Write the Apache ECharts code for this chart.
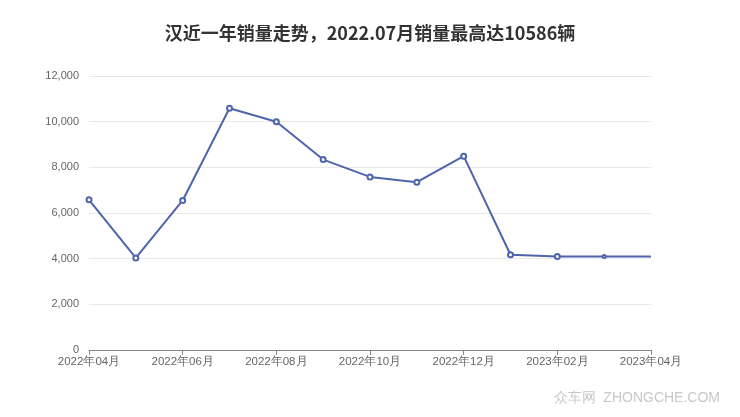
<!DOCTYPE html>
<html><head><meta charset="utf-8">
<script src="https://cdn.jsdelivr.net/npm/echarts@6/dist/echarts.min.js"></script>
<style>html,body{margin:0;padding:0;background:#fff}#c{width:740px;height:417px}</style>
</head><body><div id="c"></div>
<script>
var titleText = '汉近一年销量走势，2022.07月销量最高达10586辆';
var categories = ['2022年04月','2022年05月','2022年06月','2022年07月','2022年08月','2022年09月','2022年10月','2022年11月','2022年12月','2023年01月','2023年02月','2023年03月','2023年04月'];
var sales = [6580, 4030, 6550, 10586, 10000, 8340, 7580, 7350, 8490, 4170, 4090, 4090, 4090];
var yTicks = [0, 2000, 4000, 6000, 8000, 10000, 12000];

var seriesData = sales.map(function(v, i){
  var d = {value: v};
  if (i === sales.length - 2) { d.symbolSize = 3; }
  if (i === sales.length - 1) { d.symbol = 'none'; }
  return d;
});

var chart = echarts.init(document.getElementById('c'));
chart.setOption({
  animation: false,
  title: {text: titleText, left: 'center', top: 19, textStyle: {fontSize: 18, fontWeight: 'bold', color: '#333', fontFamily: 'Noto Sans CJK SC'}},
  graphic: [{type: 'text', right: 20, top: 391, style: {text: '众车网  ZHONGCHE.COM', fill: '#c8c8c8', fontSize: 14, fontFamily: 'Liberation Sans'}}],
  grid: {left: 89, right: 89, top: 76, bottom: 67},
  xAxis: {type: 'category', data: categories, boundaryGap: false,
    axisLine: {lineStyle: {color: '#888', width: 1}},
    axisTick: {interval: 1, length: 5, lineStyle: {color: '#888'}},
    axisLabel: {interval: 1, color: '#666', fontSize: 11.5, margin: 6, fontFamily: 'Liberation Sans'}},
  yAxis: {type: 'value', min: yTicks[0], max: yTicks[yTicks.length-1], interval: 2000,
    axisLine: {show: false}, axisTick: {show: false},
    splitLine: {lineStyle: {color: '#e8e8e8'}},
    axisLabel: {color: '#666', fontSize: 11, margin: 10, fontFamily: 'Liberation Sans', formatter: function(v){return v.toLocaleString('en-US');}}},
  series: [{type: 'line', data: seriesData, symbol: 'emptyCircle', symbolSize: 5,
    lineStyle: {color: '#4e64ab', width: 2}, itemStyle: {color: '#4e64ab', borderWidth: 1.5}}]
});
</script></body></html>
